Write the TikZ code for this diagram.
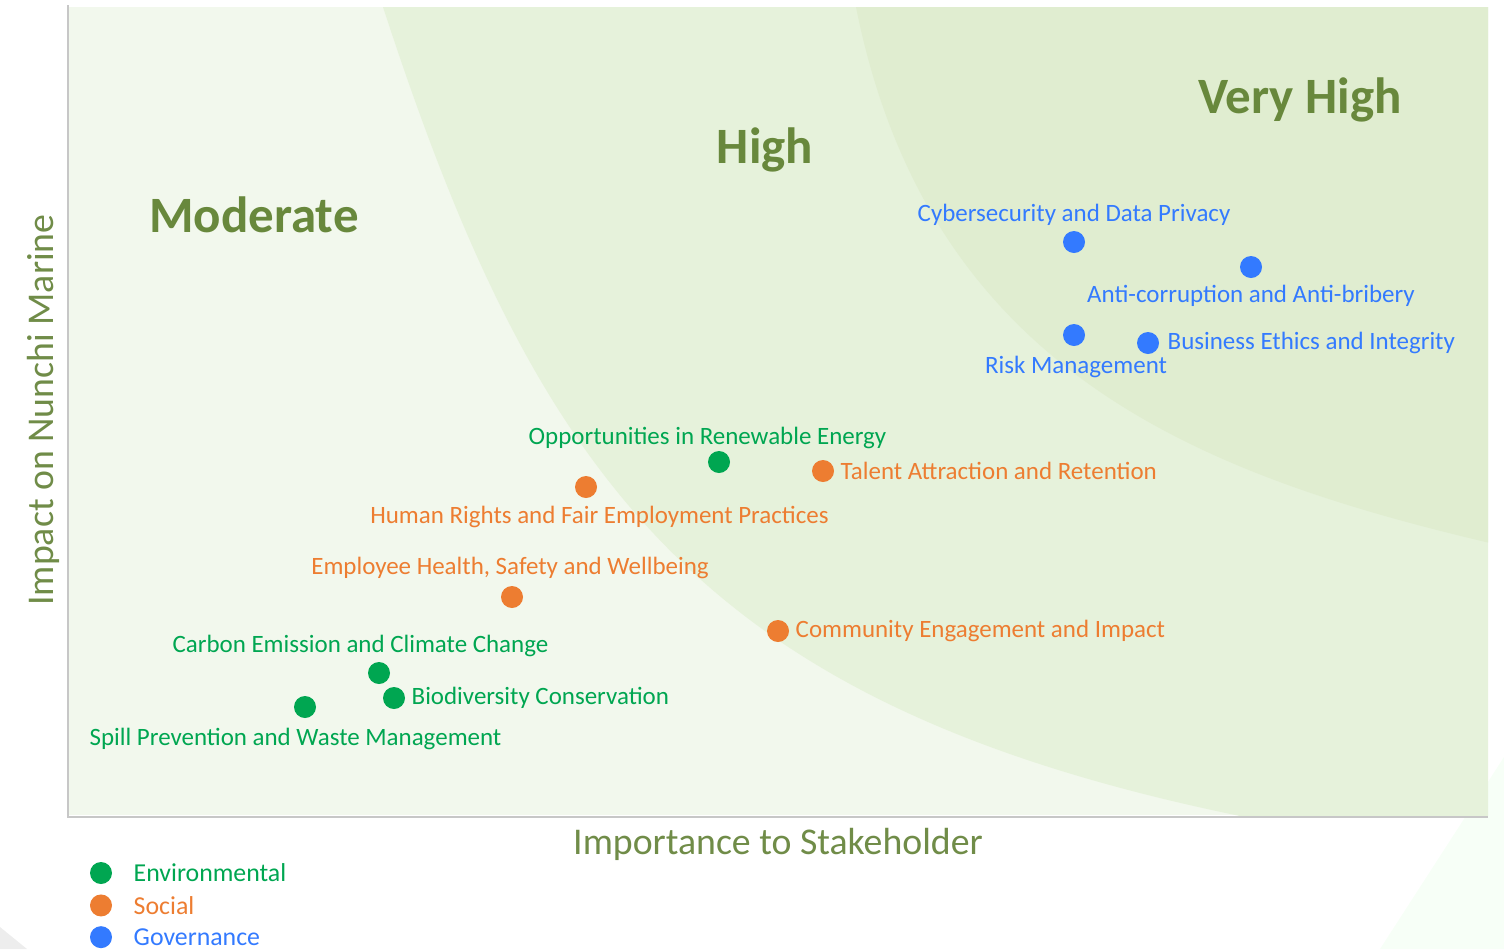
\documentclass[tikz,border=0pt]{standalone}
\usepackage{fontspec}
\setmainfont{Carlito}
\usetikzlibrary{positioning}

\definecolor{envgreen}{RGB}{0,166,81}
\definecolor{socorange}{RGB}{237,125,49}
\definecolor{govblue}{RGB}{51,122,255}
\definecolor{zonegreen}{RGB}{104,136,60}
\definecolor{axisgreen}{RGB}{112,140,72}
\definecolor{moderatebg}{RGB}{242,248,237}
\definecolor{highbg}{RGB}{230,242,219}
\definecolor{veryhighbg}{RGB}{224,237,208}

\begin{document}
\begin{tikzpicture}[
    x=0.2mm, y=-0.2mm,
    issuedot/.style={circle, inner sep=0pt, minimum size=4.4mm},
    envdot/.style={issuedot, fill=envgreen},
    socdot/.style={issuedot, fill=socorange},
    govdot/.style={issuedot, fill=govblue},
    topic/.style={inner sep=0pt, font=\fontsize{14.2}{16}\selectfont},
    envtext/.style={topic, text=envgreen},
    soctext/.style={topic, text=socorange},
    govtext/.style={topic, text=govblue},
    zonelabel/.style={font=\fontsize{29}{34}\selectfont\bfseries, text=zonegreen},
    axislabel/.style={font=\fontsize{21.5}{26}\selectfont, text=axisgreen},
    axisline/.style={draw=black!22, line width=0.4mm}
]
\useasboundingbox (0,0) rectangle (1504,949);

% Page decoration
\fill[green!3] (1504,757) -- (1380,949) -- (1504,949) -- cycle;
\fill[black!7] (0,927) -- (27,949) -- (0,949) -- cycle;

% Zones
\fill[moderatebg] (68,7) rectangle (1488,815);
\begin{scope}
\clip (68,7) rectangle (1488,815);
\fill[highbg] (383,7) .. controls (538,482) and (701,705) .. (1240,816) -- (1490,816) -- (1490,7) -- cycle;
\fill[veryhighbg] (856,7) .. controls (928.5,369.6) and (1197,474) .. (1490,543) -- (1490,7) -- cycle;
\end{scope}
\draw[axisline] (68,5) -- (68,817) -- (1488,817);

\node[zonelabel] (moderate) at (254,215) {Moderate};
\node[zonelabel] (high) at (765,150) {High};
\node[zonelabel] (veryhigh) at (1300,100) {Very High};

% Governance
\node[govdot] (cyber) at (1074,242) {};
\node[govdot] (anticorr) at (1251,267) {};
\node[govdot] (risk) at (1074,335) {};
\node[govdot] (ethics) at (1148,343) {};
\node[govtext, above=1mm of cyber] {Cybersecurity and Data Privacy};
\node[govtext, below=1.2mm of anticorr] {Anti-corruption and Anti-bribery};
\node[govtext, below=1.8mm of risk, xshift=0.4mm] {Risk Management};
\node[govtext, right=1.6mm of ethics] {Business Ethics and Integrity};

% Social
\node[socdot] (talent) at (823,471) {};
\node[socdot] (rights) at (586,487) {};
\node[socdot] (health) at (512,597) {};
\node[socdot] (community) at (778,631) {};
\node[soctext, right=1.2mm of talent] {Talent Attraction and Retention};
\node[soctext, below=1.4mm of rights, xshift=2.7mm] {Human Rights and Fair Employment Practices};
\node[soctext, above=1.4mm of health, xshift=-0.4mm] {Employee Health, Safety and Wellbeing};
\node[soctext, right=1.2mm of community] {Community Engagement and Impact};

% Environmental
\node[envdot] (renew) at (719,462) {};
\node[envdot] (carbon) at (379,673) {};
\node[envdot] (biodiv) at (394,698) {};
\node[envdot] (spill) at (305,707) {};
\node[envtext, above=0.4mm of renew, xshift=-2.3mm] {Opportunities in Renewable Energy};
\node[envtext, above=1mm of carbon, xshift=-3.7mm] {Carbon Emission and Climate Change};
\node[envtext, right=1.2mm of biodiv] {Biodiversity Conservation};
\node[envtext, below=1.8mm of spill, xshift=-1.9mm] {Spill Prevention and Waste Management};

% Axes
\node[axislabel] (xlabel) at (778,844) {Importance to Stakeholder};
\node[axislabel, rotate=90] (ylabel) at (43,410) {Impact on Nunchi Marine};

% Legend
\node[envdot] (legenv) at (101,873) {};
\node[socdot, below=1.95mm of legenv] (legsoc) {};
\node[govdot, below=1.8mm of legsoc] (leggov) {};
\node[envtext, right=4.2mm of legenv, font=\fontsize{14.7}{17}\selectfont] {Environmental};
\node[soctext, right=4.2mm of legsoc, font=\fontsize{14.7}{17}\selectfont] {Social};
\node[govtext, right=4.2mm of leggov, font=\fontsize{14.7}{17}\selectfont] {Governance};

\end{tikzpicture}
\end{document}
